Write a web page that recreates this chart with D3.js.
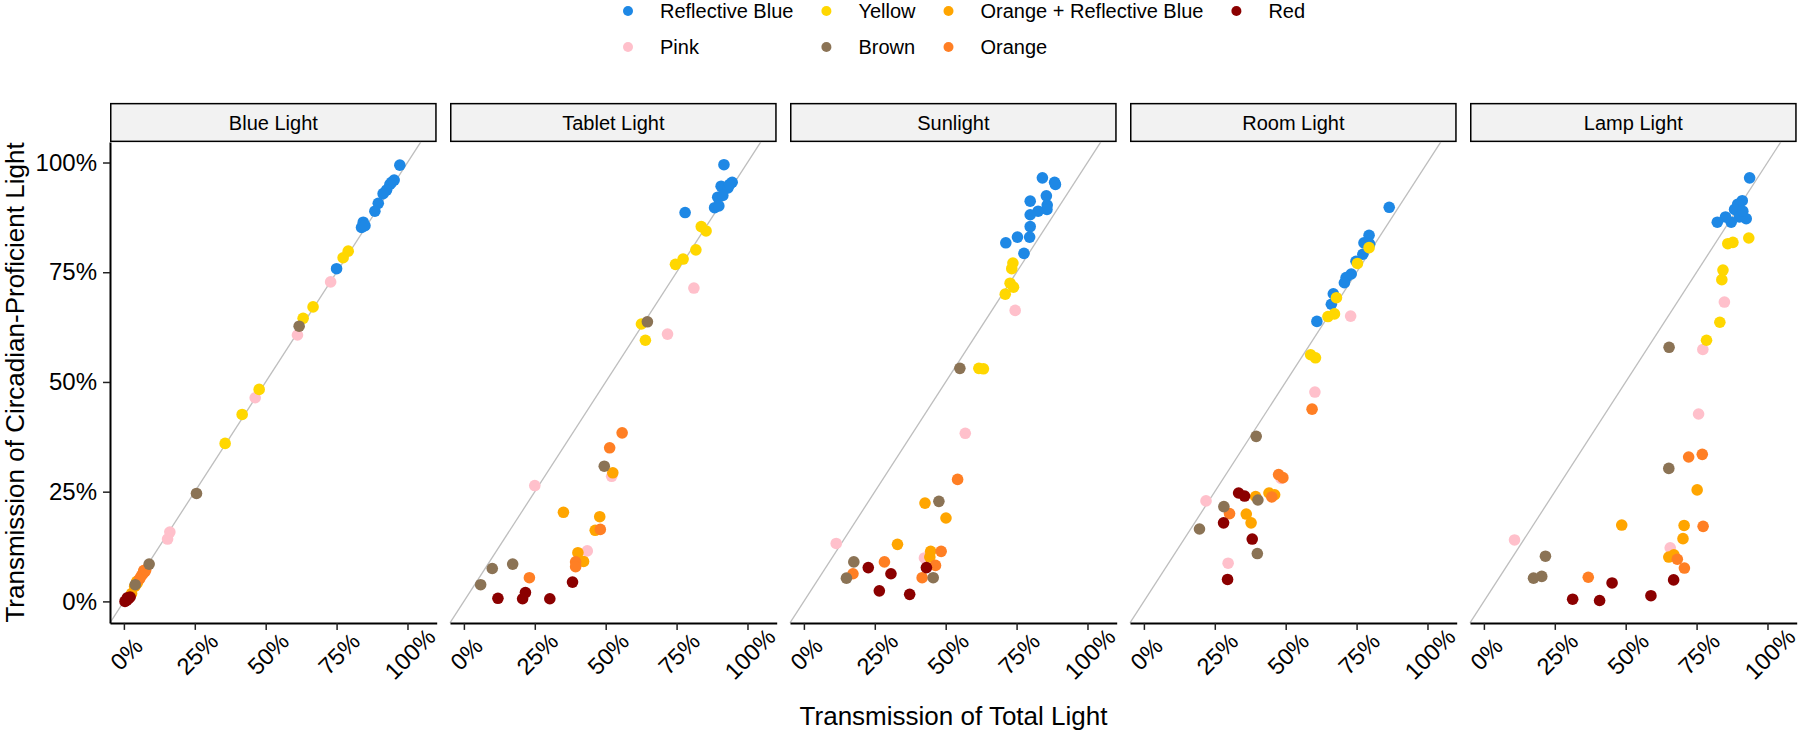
<!DOCTYPE html>
<html><head><meta charset="utf-8">
<script src="https://cdn.jsdelivr.net/npm/d3@7"></script>
<style>body{margin:0;background:#fff} text{font-family:"Liberation Sans",Arial,Helvetica,sans-serif;fill:#000}</style>
</head><body><svg id="c" width="1800" height="731"></svg>
<script>
const lights = ["Blue Light","Tablet Light","Sunlight","Room Light","Lamp Light"];
const filters = ["Reflective Blue","Yellow","Orange + Reflective Blue","Red","Pink","Brown","Orange"];
const filterColors = ["#1E88E5","#FFD700","#FFA500","#8B0000","#FFC0CB","#8B7355","#FF7F24"];
const drawOrder = ["Pink","Reflective Blue","Yellow","Orange + Reflective Blue","Orange","Brown","Red"];
const tickValues = [0,0.25,0.5,0.75,1];

// [filter, transmission of total light, transmission of circadian-proficient light]
const blueLightPts = [
["Reflective Blue",0.973,0.994],["Reflective Blue",0.953,0.960],["Reflective Blue",0.944,0.955],["Reflective Blue",0.938,0.950],
["Reflective Blue",0.926,0.937],["Reflective Blue",0.914,0.929],["Reflective Blue",0.897,0.907],["Reflective Blue",0.885,0.889],
["Reflective Blue",0.844,0.864],["Reflective Blue",0.838,0.852],["Reflective Blue",0.850,0.856],["Reflective Blue",0.750,0.758],
["Yellow",0.791,0.798],["Yellow",0.773,0.783],["Yellow",0.667,0.671],["Yellow",0.632,0.645],["Yellow",0.477,0.483],["Yellow",0.417,0.426],["Yellow",0.357,0.360],
["Pink",0.729,0.728],["Pink",0.612,0.607],["Pink",0.463,0.464],["Pink",0.162,0.158],["Pink",0.154,0.142],
["Brown",0.618,0.627],["Brown",0.256,0.246],["Brown",0.089,0.085],["Brown",0.040,0.038],
["Orange",0.062,0.059],["Orange",0.068,0.064],["Orange",0.074,0.068],["Orange",0.070,0.070],["Orange",0.056,0.052],["Orange",0.077,0.072],
["Orange + Reflective Blue",0.027,0.018],["Orange + Reflective Blue",0.042,0.038],["Orange + Reflective Blue",0.047,0.042],["Orange + Reflective Blue",0.050,0.047],["Orange + Reflective Blue",0.038,0.034],["Orange + Reflective Blue",0.045,0.045],
["Red",0.004,0.000],["Red",0.010,0.003],["Red",0.016,0.006],["Red",0.022,0.010],["Red",0.012,0.008]
];
const tabletLightPts = [
["Reflective Blue",0.917,0.995],["Reflective Blue",0.780,0.886],["Reflective Blue",0.907,0.946],["Reflective Blue",0.946,0.955],["Reflective Blue",0.931,0.942],
["Reflective Blue",0.895,0.921],["Reflective Blue",0.913,0.925],["Reflective Blue",0.884,0.897],["Reflective Blue",0.899,0.901],["Reflective Blue",0.937,0.950],
["Yellow",0.837,0.854],["Yellow",0.854,0.844],["Yellow",0.818,0.801],["Yellow",0.773,0.780],["Yellow",0.746,0.768],["Yellow",0.626,0.632],["Yellow",0.640,0.595],
["Brown",0.647,0.637],["Brown",0.495,0.308],["Brown",0.172,0.085],["Brown",0.100,0.075],["Brown",0.059,0.038],
["Pink",0.811,0.714],["Pink",0.718,0.609],["Pink",0.250,0.264],["Pink",0.521,0.285],["Pink",0.435,0.115],
["Orange",0.558,0.384],["Orange",0.514,0.350],["Orange",0.481,0.164],["Orange",0.394,0.090],["Orange",0.394,0.079],["Orange",0.231,0.054],
["Orange + Reflective Blue",0.525,0.293],["Orange + Reflective Blue",0.351,0.203],["Orange + Reflective Blue",0.479,0.193],["Orange + Reflective Blue",0.463,0.162],["Orange + Reflective Blue",0.402,0.111],["Orange + Reflective Blue",0.422,0.091],
["Red",0.383,0.044],["Red",0.120,0.007],["Red",0.217,0.020],["Red",0.207,0.006],["Red",0.303,0.006]
];
const sunlightPts = [
["Reflective Blue",0.841,0.965],["Reflective Blue",0.884,0.955],["Reflective Blue",0.887,0.950],["Reflective Blue",0.855,0.924],["Reflective Blue",0.798,0.912],
["Reflective Blue",0.858,0.903],["Reflective Blue",0.857,0.893],["Reflective Blue",0.826,0.889],["Reflective Blue",0.798,0.881],["Reflective Blue",0.798,0.854],
["Reflective Blue",0.796,0.830],["Reflective Blue",0.753,0.830],["Reflective Blue",0.712,0.817],["Reflective Blue",0.776,0.793],
["Yellow",0.737,0.771],["Yellow",0.733,0.758],["Yellow",0.727,0.725],["Yellow",0.739,0.716],["Yellow",0.710,0.700],["Yellow",0.617,0.531],["Yellow",0.633,0.530],
["Pink",0.745,0.663],["Pink",0.569,0.383],["Pink",0.114,0.132],["Pink",0.425,0.099],
["Brown",0.550,0.531],["Brown",0.476,0.228],["Brown",0.176,0.090],["Brown",0.150,0.053],["Brown",0.456,0.054],
["Orange",0.542,0.278],["Orange",0.484,0.114],["Orange",0.284,0.090],["Orange",0.173,0.063],["Orange",0.464,0.082],["Orange",0.417,0.054],
["Orange + Reflective Blue",0.427,0.224],["Orange + Reflective Blue",0.501,0.190],["Orange + Reflective Blue",0.330,0.130],["Orange + Reflective Blue",0.447,0.114],["Orange + Reflective Blue",0.444,0.101],
["Red",0.227,0.077],["Red",0.307,0.063],["Red",0.432,0.077],["Red",0.266,0.024],["Red",0.373,0.016]
];
const roomLightPts = [
["Reflective Blue",0.865,0.898],["Reflective Blue",0.794,0.834],["Reflective Blue",0.776,0.817],["Reflective Blue",0.796,0.814],["Reflective Blue",0.772,0.791],
["Reflective Blue",0.748,0.775],["Reflective Blue",0.731,0.746],["Reflective Blue",0.713,0.738],["Reflective Blue",0.707,0.726],["Reflective Blue",0.668,0.701],
["Reflective Blue",0.661,0.677],["Reflective Blue",0.610,0.638],
["Yellow",0.794,0.806],["Yellow",0.753,0.770],["Yellow",0.679,0.692],["Yellow",0.672,0.655],["Yellow",0.649,0.649],["Yellow",0.588,0.562],["Yellow",0.605,0.555],
["Pink",0.729,0.650],["Pink",0.603,0.477],["Pink",0.219,0.229],["Pink",0.484,0.280],["Pink",0.297,0.087],
["Orange",0.593,0.438],["Orange",0.475,0.289],["Orange",0.490,0.282],["Orange",0.451,0.238],["Orange",0.302,0.200],
["Orange + Reflective Blue",0.394,0.239],["Orange + Reflective Blue",0.441,0.247],["Orange + Reflective Blue",0.461,0.243],["Orange + Reflective Blue",0.361,0.199],["Orange + Reflective Blue",0.378,0.179],
["Brown",0.396,0.376],["Brown",0.402,0.231],["Brown",0.282,0.216],["Brown",0.196,0.165],["Brown",0.400,0.109],
["Red",0.334,0.247],["Red",0.355,0.240],["Red",0.281,0.179],["Red",0.382,0.142],["Red",0.295,0.050]
];
const lampLightPts = [
["Reflective Blue",0.937,0.965],["Reflective Blue",0.911,0.913],["Reflective Blue",0.895,0.905],["Reflective Blue",0.884,0.893],["Reflective Blue",0.925,0.872],
["Reflective Blue",0.901,0.876],["Reflective Blue",0.872,0.864],["Reflective Blue",0.852,0.876],["Reflective Blue",0.823,0.864],["Reflective Blue",0.913,0.889],
["Yellow",0.934,0.828],["Yellow",0.878,0.818],["Yellow",0.860,0.815],["Yellow",0.843,0.755],["Yellow",0.839,0.733],["Yellow",0.832,0.636],["Yellow",0.785,0.595],
["Pink",0.848,0.682],["Pink",0.772,0.574],["Pink",0.757,0.427],["Pink",0.657,0.122],["Pink",0.108,0.140],
["Brown",0.653,0.579],["Brown",0.652,0.303],["Brown",0.217,0.103],["Brown",0.204,0.057],["Brown",0.175,0.053],
["Orange",0.770,0.335],["Orange",0.722,0.329],["Orange",0.773,0.171],["Orange",0.682,0.096],["Orange",0.707,0.076],["Orange",0.368,0.055],
["Orange + Reflective Blue",0.752,0.254],["Orange + Reflective Blue",0.486,0.174],["Orange + Reflective Blue",0.706,0.173],["Orange + Reflective Blue",0.702,0.143],["Orange + Reflective Blue",0.652,0.101],["Orange + Reflective Blue",0.670,0.106],
["Red",0.669,0.049],["Red",0.452,0.042],["Red",0.589,0.013],["Red",0.313,0.005],["Red",0.408,0.002]
];
const panelData = [blueLightPts, tabletLightPts, sunlightPts, roomLightPts, lampLightPts];

const svg = d3.select("#c");
const panelW = 326.7, panelH = 480.8, panelTop = 142.1, stripH = 39.2;
const x = d3.scaleLinear().domain([-0.049, 1.103]).range([0, panelW]);
const y = d3.scaleLinear().domain([-0.049, 1.0465]).range([panelH, 0]);
const color = d3.scaleOrdinal().domain(filters).range(filterColors);
const pct = d3.format(".0%");

lights.forEach((name, i) => {
  const g = svg.append("g").attr("transform", `translate(${110 + 340 * i},${panelTop})`);
  g.append("rect").attr("x", 0.75).attr("y", -stripH + 0.75).attr("width", panelW - 1.5).attr("height", stripH - 1.5)
    .attr("fill", "#F2F2F2").attr("stroke", "#000").attr("stroke-width", 1.5);
  g.append("text").attr("x", panelW / 2).attr("y", -stripH / 2).attr("dy", "0.35em")
    .attr("text-anchor", "middle").style("font-size", "20px").text(name);
  const lo = Math.max(x.domain()[0], y.domain()[0]);
  const hi = Math.min(x.domain()[1], y.domain()[1]);
  g.append("line").attr("x1", x(lo)).attr("y1", y(lo)).attr("x2", x(hi)).attr("y2", y(hi))
    .attr("stroke", "#BEBEBE").attr("stroke-width", 1.3);
  const pts = panelData[i].slice().sort((a, b) => drawOrder.indexOf(a[0]) - drawOrder.indexOf(b[0]));
  g.selectAll("circle").data(pts).join("circle")
    .attr("cx", d => x(d[1])).attr("cy", d => y(d[2])).attr("r", 5.8)
    .attr("fill", d => color(d[0]));
  const ax = g.append("g").attr("transform", `translate(0,${panelH})`)
    .call(d3.axisBottom(x).tickValues(tickValues).tickFormat(pct).tickSize(7).tickSizeOuter(0));
  ax.select(".domain").attr("stroke", "#000").attr("stroke-width", 2);
  ax.selectAll(".tick line").attr("stroke", "#222").attr("stroke-width", 1.5);
  ax.selectAll(".tick text").attr("x", 0).attr("y", 0).attr("dy", "0.35em")
    .attr("text-anchor", "middle").attr("transform", "translate(2,31) rotate(-45)")
    .style("font-size", "23.5px").attr("fill", "#000");
  if (i === 0) {
    const ay = g.append("g").call(d3.axisLeft(y).tickValues(tickValues).tickFormat(pct).tickSize(7).tickPadding(6).tickSizeOuter(0));
    ay.select(".domain").attr("stroke", "#000").attr("stroke-width", 2);
    ay.selectAll(".tick line").attr("stroke", "#222").attr("stroke-width", 1.5);
    ay.selectAll(".tick text").style("font-size", "24px").attr("fill", "#000");
  }
  g.selectAll(".tick text").style("font-family", '"Liberation Sans",Arial,sans-serif');
});

svg.append("text").attr("x", 953.5).attr("y", 725).attr("text-anchor", "middle")
  .style("font-size", "26px").text("Transmission of Total Light");
svg.append("text").attr("transform", "translate(24,382.5) rotate(-90)").attr("text-anchor", "middle")
  .style("font-size", "26px").text("Transmission of Circadian-Proficient Light");

const legendRows = [filters.slice(0, 4), filters.slice(4)];
const rowY = [11, 47];
const colX = [];
{
  let cx = 628;
  const probe = svg.append("text").style("font-size", "20px");
  for (let c = 0; c < 4; c++) {
    colX.push(cx);
    let w = 0;
    legendRows.forEach(r => { if (r[c]) { probe.text(r[c]); w = Math.max(w, probe.node().getComputedTextLength()); } });
    cx = cx + 32 + w + 33;
  }
  probe.remove();
}
legendRows.forEach((row, ri) => {
  row.forEach((f, ci) => {
    svg.append("circle").attr("cx", colX[ci]).attr("cy", rowY[ri]).attr("r", 5).attr("fill", color(f));
    svg.append("text").attr("x", colX[ci] + 32).attr("y", rowY[ri]).attr("dy", "0.36em")
      .style("font-size", "20px").text(f);
  });
});
</script></body></html>
